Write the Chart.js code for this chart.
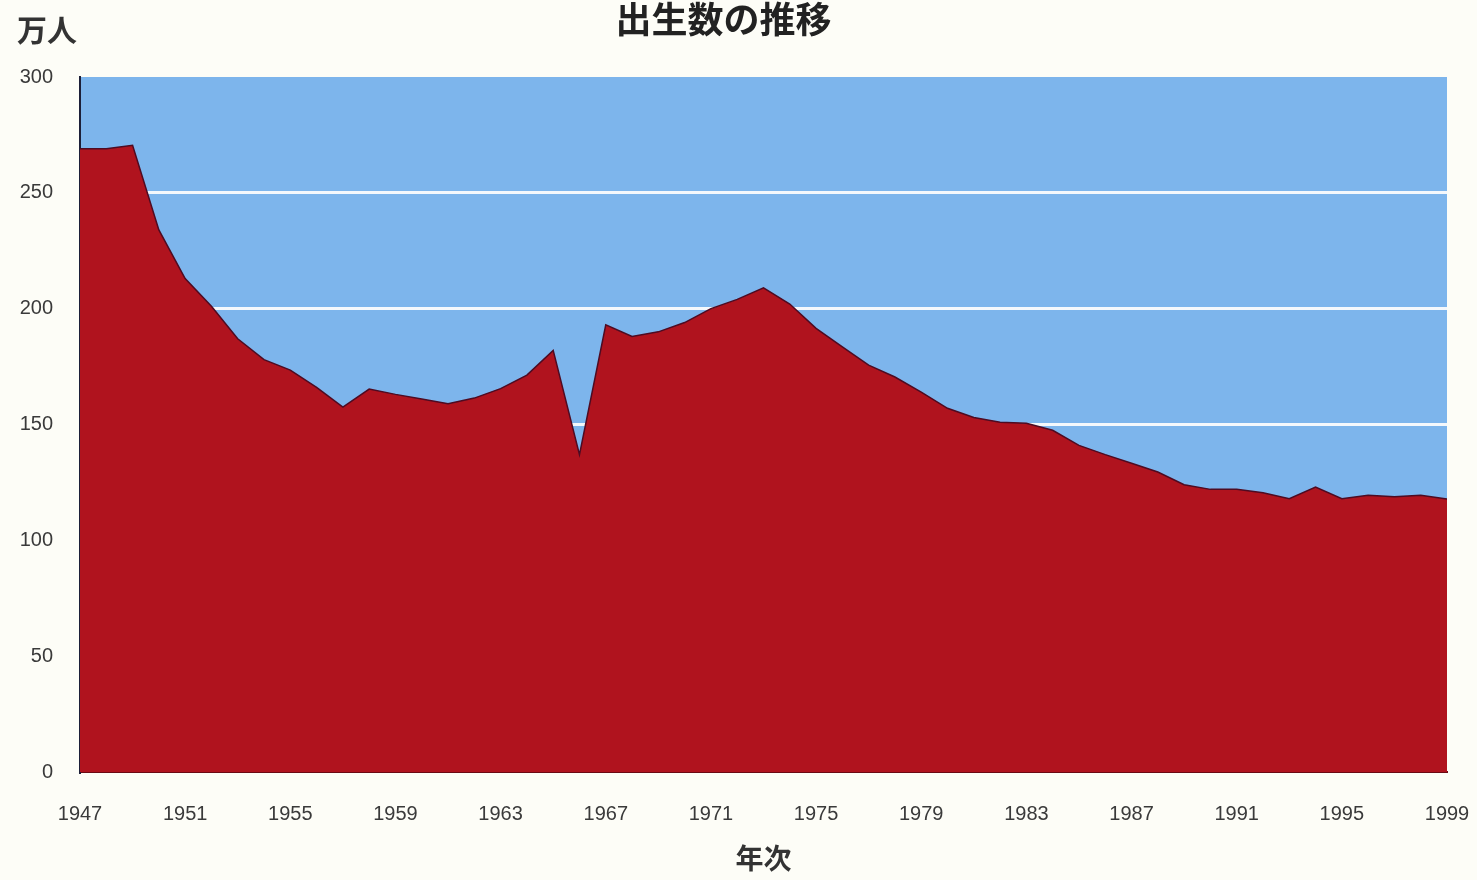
<!DOCTYPE html>
<html lang="ja">
<head>
<meta charset="utf-8">
<title>出生数の推移</title>
<script src="https://cdn.jsdelivr.net/npm/chart.js@4.4.1/dist/chart.umd.min.js"></script>
<style>
  html, body { margin: 0; padding: 0; background: #fdfdf7; }
  #wrap { width: 1477px; height: 880px; position: relative; }
</style>
</head>
<body>
<div id="wrap"><canvas id="birthChart"></canvas></div>
<script>
// births per year, in 万人
const years = [
  1947, 1948, 1949, 1950, 1951, 1952, 1953, 1954, 1955, 1956,
  1957, 1958, 1959, 1960, 1961, 1962, 1963, 1964, 1965, 1966,
  1967, 1968, 1969, 1970, 1971, 1972, 1973, 1974, 1975, 1976,
  1977, 1978, 1979, 1980, 1981, 1982, 1983, 1984, 1985, 1986,
  1987, 1988, 1989, 1990, 1991, 1992, 1993, 1994, 1995, 1996,
  1997, 1998, 1999
];
const births = [
  269, 269, 270.5, 234, 213, 201, 187, 178, 173.5, 166,
  157.5, 165.3, 163, 161, 159, 161.4, 165.5, 171.3, 182, 137,
  193, 188, 190, 194, 200, 204, 209, 202, 191.5, 183.5,
  175.6, 170.5, 164, 157, 153, 151, 150.5, 147.5, 141, 137,
  133.3, 129.5, 124, 122, 122, 120.5, 118, 123, 118, 119.5,
  118.8, 119.5, 117.8
];
const yTicks = [0, 50, 100, 150, 200, 250, 300];
const xTickStep = 4;

const titleText = '出生数の推移';
const yUnitText = '万人';
const xAxisText = '年次';

// blue plot background + the "万人" unit label
const plotBg = {
  id: 'plotBg',
  beforeDraw(chart) {
    const { ctx, chartArea: a } = chart;
    ctx.save();
    ctx.fillStyle = '#7db5ec';
    ctx.fillRect(a.left, a.top, a.right - a.left, a.bottom - a.top);
    ctx.restore();
  },
  afterDraw(chart) {
    const ctx = chart.ctx;
    ctx.save();
    ctx.font = 'bold 30px "Noto Sans CJK JP", sans-serif';
    ctx.fillStyle = '#333';
    ctx.textAlign = 'left';
    ctx.textBaseline = 'middle';
    ctx.fillText(yUnitText, 17, 30);
    ctx.restore();
  }
};

const points = years.map((y, i) => ({ x: y, y: births[i] }));

const ctx = document.getElementById('birthChart').getContext('2d');
new Chart(ctx, {
  type: 'line',
  data: {
    datasets: [{
      label: '出生数',
      data: points,
      fill: 'origin',
      backgroundColor: '#b0131e',
      borderColor: '#4e0b22',
      borderWidth: 1.5,
      pointRadius: 0,
      tension: 0
    }]
  },
  options: {
    responsive: true,
    maintainAspectRatio: false,
    animation: false,
    layout: { padding: { left: 0, right: 30, top: 0, bottom: 0 } },
    plugins: {
      legend: { display: false },
      tooltip: { enabled: false },
      title: {
        display: true,
        text: titleText,
        color: '#222',
        font: { family: '"Noto Sans CJK JP", sans-serif', size: 36, weight: 'bold', lineHeight: 1 },
        padding: { top: 1, bottom: 40 }
      }
    },
    scales: {
      x: {
        type: 'linear',
        min: years[0],
        max: years[years.length - 1],
        afterFit(scale) { scale.height = 108; },
        border: { display: true, color: '#6a0a14', width: 2 },
        // grid hidden, but tickLength still pushes the labels down
        grid: { display: false, drawTicks: true, tickLength: 27 },
        ticks: {
          stepSize: xTickStep,
          padding: 3,
          color: '#3a3a3a',
          font: { family: '"Liberation Sans", Arial, sans-serif', size: 20 },
          callback: v => String(v),
          maxRotation: 0
        },
        title: {
          display: true,
          text: xAxisText,
          color: '#333',
          font: { family: '"Noto Sans CJK JP", sans-serif', size: 28, weight: 'bold', lineHeight: 1 },
          padding: { top: 0, bottom: 8 }
        }
      },
      y: {
        min: 0,
        max: 300,
        afterFit(scale) { scale.width = 80; },
        afterBuildTicks(scale) { scale.ticks = yTicks.map(v => ({ value: v })); },
        border: { display: true, color: '#1c1f38', width: 2 },
        grid: {
          drawTicks: false,
          lineWidth: 3,
          color: c => (c.tick && c.tick.value > 0 && c.tick.value < 300) ? '#f4f8fc' : 'rgba(0,0,0,0)'
        },
        ticks: {
          padding: 27,
          color: '#3a3a3a',
          font: { family: '"Liberation Sans", Arial, sans-serif', size: 20 }
        }
      }
    }
  },
  plugins: [plotBg]
});
</script>
</body>
</html>
